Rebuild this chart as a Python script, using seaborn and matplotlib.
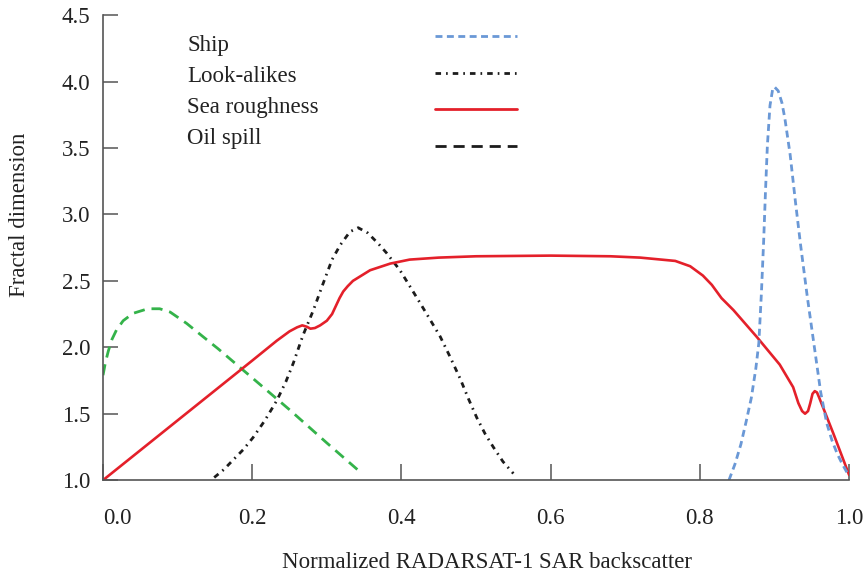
import numpy as np
import seaborn as sns
import matplotlib.pyplot as plt
from matplotlib.lines import Line2D

# values
ship_x = [0.839, 0.847, 0.855, 0.862, 0.869, 0.875, 0.879, 0.8825, 0.8855, 0.888, 0.8905, 0.894,
          0.8975, 0.900, 0.905, 0.910, 0.914, 0.921, 0.928, 0.935, 0.944, 0.953, 0.962, 0.970,
          0.977, 0.984, 0.991, 1.0]
ship_y = [1.0, 1.12, 1.27, 1.44, 1.62, 1.84, 2.03, 2.41, 2.80, 3.18, 3.52, 3.82,
          3.94, 3.96, 3.93, 3.84, 3.72, 3.45, 3.10, 2.77, 2.38, 2.02, 1.66, 1.43,
          1.30, 1.20, 1.12, 1.03]

look_x = [0.149, 0.162, 0.174, 0.188, 0.201, 0.217, 0.233, 0.245, 0.255, 0.268, 0.282, 0.295,
          0.307, 0.318, 0.331, 0.342, 0.355, 0.369, 0.380, 0.398, 0.409, 0.421, 0.435, 0.452,
          0.465, 0.479, 0.490, 0.501, 0.512, 0.523, 0.536, 0.550]
look_y = [1.02, 1.08, 1.15, 1.23, 1.32, 1.45, 1.60, 1.74, 1.88, 2.09, 2.28, 2.48,
          2.66, 2.77, 2.87, 2.90, 2.86, 2.78, 2.71, 2.58, 2.48, 2.37, 2.24, 2.08,
          1.93, 1.76, 1.61, 1.47, 1.35, 1.25, 1.14, 1.05]

sea_x = [0.0, 0.10, 0.20, 0.233, 0.250, 0.260, 0.267, 0.273, 0.278, 0.284, 0.291, 0.300,
         0.307, 0.312, 0.317, 0.322, 0.328, 0.335, 0.358, 0.385, 0.411, 0.45, 0.50, 0.60,
         0.68, 0.72, 0.767, 0.787, 0.804, 0.816, 0.829, 0.845, 0.876, 0.907, 0.925, 0.932,
         0.937, 0.941, 0.945, 0.948, 0.951, 0.954, 0.957, 0.960, 0.979, 1.0]
sea_y = [1.0, 1.45, 1.90, 2.05, 2.12, 2.15, 2.165, 2.155, 2.14, 2.145, 2.165, 2.20,
         2.25, 2.31, 2.37, 2.42, 2.46, 2.50, 2.58, 2.63, 2.66, 2.675, 2.685, 2.69,
         2.685, 2.675, 2.65, 2.61, 2.54, 2.47, 2.37, 2.28, 2.08, 1.87, 1.70, 1.58,
         1.52, 1.50, 1.52, 1.58, 1.65, 1.67, 1.66, 1.62, 1.35, 1.04]

oil_x = [0.0, 0.003, 0.007, 0.012, 0.018, 0.027, 0.040, 0.060, 0.076, 0.090, 0.112, 0.134,
         0.154, 0.20, 0.25, 0.30, 0.345]
oil_y = [1.79, 1.88, 1.97, 2.06, 2.13, 2.20, 2.255, 2.29, 2.29, 2.265, 2.18, 2.08,
         1.99, 1.77, 1.53, 1.28, 1.06]

labels = ["Ship", "Look-alikes", "Sea roughness", "Oil spill"]
x_ticks = [0.0, 0.2, 0.4, 0.6, 0.8, 1.0]
y_ticks = [1.0, 1.5, 2.0, 2.5, 3.0, 3.5, 4.0, 4.5]

RED = "#e4202a"
BLUE = "#6a98d6"
GREEN = "#34b34a"
BLACK = "#1c1c1c"
FS = 16.5

sns.set_style("ticks")
plt.rcParams["font.family"] = ["Liberation Serif", "DejaVu Serif"]
plt.rcParams["font.size"] = FS

fig = plt.figure(figsize=(8.68, 5.82), dpi=100)
ax = fig.add_axes([0.1187, 0.175, 0.8595, 0.799])

ship_ls = (0, (2.5, 1.6))
look_ls = (0, (2.0, 1.8, 0.6, 1.8))
oil_ls = (0, (4.0, 2.5))

sns.lineplot(x=oil_x, y=oil_y, ax=ax, color=GREEN, linestyle=oil_ls, linewidth=2.0, sort=False)
sns.lineplot(x=look_x, y=look_y, ax=ax, color=BLACK, linestyle=look_ls, linewidth=2.0, sort=False)
sns.lineplot(x=sea_x, y=sea_y, ax=ax, color=RED, linestyle="-", linewidth=1.9, sort=False)
sns.lineplot(x=ship_x, y=ship_y, ax=ax, color=BLUE, linestyle=ship_ls, linewidth=2.0, sort=False)

ax.set_xlim(0, 1)
ax.set_ylim(1, 4.5)
ax.set_xticks(x_ticks)
ax.set_yticks(y_ticks)
ax.set_xticklabels([f"{v:.1f}" for v in x_ticks])
ax.set_yticklabels([f"{v:.1f}" for v in y_ticks])
ax.get_xticklabels()[0].set_ha("left")

sns.despine(ax=ax)
for s in ["left", "bottom"]:
    ax.spines[s].set_color("#555555")
    ax.spines[s].set_linewidth(1.2)
ax.tick_params(axis="both", direction="in", color="#555555", width=1.1, labelsize=FS,
               labelcolor="#222222")
ax.tick_params(axis="x", length=11.5, pad=20)
ax.tick_params(axis="y", length=11, pad=9)

ax.set_xlabel("Normalized RADARSAT-1 SAR backscatter", fontsize=FS, color="#222222")
ax.set_ylabel("Fractal dimension", fontsize=FS, color="#222222")
ax.xaxis.set_label_coords(0.515, -0.155)
ax.yaxis.set_label_coords(-0.098, 0.57)

# legend: labels on the left, line keys on the right with their own spacing
text_handles = [Line2D([], [], linestyle="none") for _ in labels]
leg1 = ax.legend(text_handles, labels, loc="upper left", bbox_to_anchor=(0.1126, 0.957),
                 frameon=False, handlelength=0, handletextpad=0, borderpad=0,
                 borderaxespad=0, labelspacing=0.43, fontsize=FS)
for t in leg1.get_texts():
    t.set_color("#222222")
ax.add_artist(leg1)

key_handles = [
    Line2D([], [], color=BLUE, linestyle=ship_ls, linewidth=2.0),
    Line2D([], [], color=BLACK, linestyle=look_ls, linewidth=2.0),
    Line2D([], [], color=RED, linestyle="-", linewidth=2.0),
    Line2D([], [], color=BLACK, linestyle=oil_ls, linewidth=2.0),
]
ax.legend(key_handles, ["", "", "", ""], loc="upper left", bbox_to_anchor=(0.445, 0.972),
          frameon=False, handlelength=3.58, handletextpad=0, borderpad=0,
          borderaxespad=0, labelspacing=0.68, fontsize=FS)

fig.savefig("out.png", dpi=100)
